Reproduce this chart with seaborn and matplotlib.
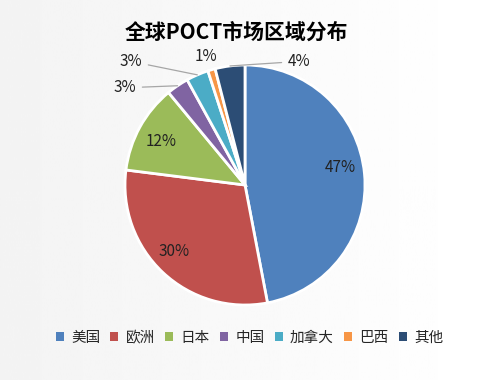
import numpy as np
import matplotlib
matplotlib.use("Agg")
import matplotlib.pyplot as plt
import seaborn as sns
from matplotlib.patches import Patch

regions = ["美国", "欧洲", "日本", "中国", "加拿大", "巴西", "其他"]
shares = [47, 30, 12, 3, 3, 1, 4]
colors = ["#4F81BD", "#C0504D", "#9BBB59", "#8064A2", "#4BACC6", "#F79646", "#2C4D75"]
title = "全球POCT市场区域分布"

sns.set_theme(style="white")
plt.rcParams['font.family'] = ['Noto Sans CJK SC', 'DejaVu Sans']

fig = plt.figure(figsize=(4.78, 3.80), dpi=100)

# light grey -> white background
bg = fig.add_axes([0, 0, 1, 1], zorder=-10)
grad = np.linspace(0.953, 1.0, 256).reshape(1, -1)
bg.imshow(grad, cmap="gray", vmin=0, vmax=1, aspect="auto", extent=[0, 1, 0, 1])
bg.axis("off")

# pie axes: centre (245,185) px, radius 120 px
cx, cy, r = 245, 185, 120
ax = fig.add_axes([(cx - r) / 478, (380 - cy - r) / 380, 2 * r / 478, 2 * r / 380])
ax.set_facecolor("none")
wedges, _ = ax.pie(shares, colors=colors, startangle=90, counterclock=False,
                   wedgeprops=dict(edgecolor="white", linewidth=2))
ax.set_xlim(-1, 1)
ax.set_ylim(-1, 1)
ax.set_aspect("equal")
ax.axis("off")

# labels inside the big slices (radius, dx, dy)
inner = {0: (0.80, 0.0, 0.07), 1: (0.80, -0.04, 0.03), 2: (0.80, 0.0, -0.02)}
for i, (rad, dx, dy) in inner.items():
    w = wedges[i]
    ang = np.deg2rad((w.theta1 + w.theta2) / 2)
    ax.text(rad * np.cos(ang) + dx, rad * np.sin(ang) + dy, f"{shares[i]}%",
            ha="center", va="center", fontsize=11, color="#222222")

# labels outside the small slices
outer = {3: (-1.0, 0.81, True), 4: (-0.95, 1.03, True),
         5: (-0.325, 1.07, False), 6: (0.45, 1.03, True)}
for i, (tx, ty, line) in outer.items():
    w = wedges[i]
    ang = np.deg2rad((w.theta1 + w.theta2) / 2)
    ex, ey = np.cos(ang), np.sin(ang)
    props = dict(arrowstyle="-", color="#A6A6A6", lw=0.9, shrinkA=2, shrinkB=0) if line else None
    ax.annotate(f"{shares[i]}%", xy=(ex, ey), xytext=(tx, ty),
                ha="center", va="center", fontsize=11, color="#222222",
                arrowprops=props, annotation_clip=False)

fig.text(0.495, 1 - 32 / 380, title, ha="center", va="center",
         fontsize=15, fontweight="bold", color="black")

handles = [Patch(facecolor=c, edgecolor="none", label=l) for c, l in zip(colors, regions)]
fig.legend(handles=handles, loc="center", bbox_to_anchor=(0.522, 1 - 338 / 380),
           ncol=7, frameon=False, fontsize=10.5, handlelength=0.55, handleheight=0.55,
           handletextpad=0.5, columnspacing=0.7)

fig.savefig("out.png", dpi=100)
